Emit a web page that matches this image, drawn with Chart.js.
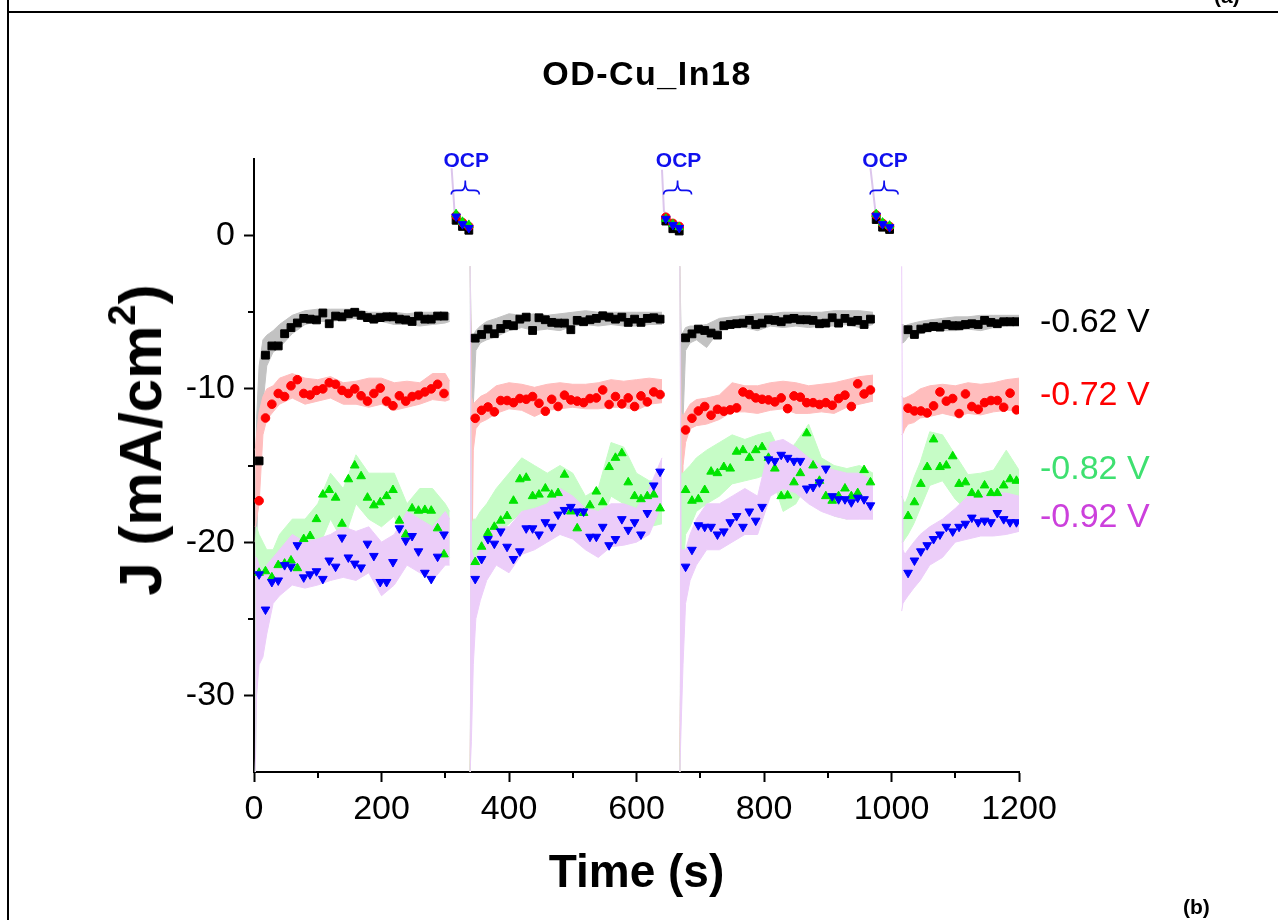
<!DOCTYPE html>
<html>
<head>
<meta charset="utf-8">
<script src="https://cdn.jsdelivr.net/npm/chart.js@4.4.1/dist/chart.umd.min.js"></script>
<style>
  html, body { margin: 0; padding: 0; background: #fff; }
  #wrap { position: relative; width: 1278px; height: 920px; overflow: hidden; font-family: "Liberation Sans", Arial, sans-serif; }
  #chart { position: absolute; left: 0; top: 0; }
  .frame-v { position: absolute; left: 7px; top: 0; width: 2px; height: 920px; background: #000; }
  .frame-h { position: absolute; left: 7px; top: 11px; width: 1271px; height: 2px; background: #000; }
  .txt { position: absolute; white-space: nowrap; line-height: 1; }
  .title { left: 647px; top: 73px; transform: translate(-50%, -50%); font-weight: bold; font-size: 34px; letter-spacing: 1.5px; }
  .ytitle { left: 141px; top: 440px; transform: translate(-50%, -50%) rotate(-90deg); font-weight: bold; font-size: 60px; }
  .ytitle sup { font-size: 38px; vertical-align: 26px; line-height: 0; }
  .vlab { left: 1040px; font-size: 34px; transform: translateY(-50%); }
  .panel { font-weight: bold; font-size: 21px; }
</style>
</head>
<body>
<div id="wrap">
  <canvas id="chart" width="1278" height="920"></canvas>
  <div class="frame-v"></div>
  <div class="frame-h"></div>
  <div class="txt panel" style="left:1214px; top:-15px;">(a)</div>
  <div class="txt title">OD-Cu_In18</div>
  <div class="txt ytitle">J (mA/cm<sup>2</sup>)</div>
  <div class="txt vlab" style="top:320px; color:#000000;">-0.62 V</div>
  <div class="txt vlab" style="top:393px; color:#ff0000;">-0.72 V</div>
  <div class="txt vlab" style="top:467px; color:#3ee070;">-0.82 V</div>
  <div class="txt vlab" style="top:515px; color:#cc40dc;">-0.92 V</div>
  <div class="txt panel" style="left:1183px; top:896px;">(b)</div>
</div>
<script>
// ---- marker times (s), one array per chronoamperometry step ----
const markTime1 = [8, 18, 28, 38, 48, 58, 68, 78, 88, 98, 108, 118, 128, 138, 148, 158, 168, 178, 188, 198, 208, 218, 228, 238, 248, 258, 268, 278, 288, 298];
const markTime2 = [347, 357, 367, 377, 387, 397, 407, 417, 427, 437, 447, 457, 467, 477, 487, 497, 507, 517, 527, 537, 547, 557, 567, 577, 587, 597, 607, 617, 627, 637];
const markTime3 = [677, 687, 697, 707, 717, 727, 737, 747, 757, 767, 777, 787, 797, 807, 817, 827, 837, 847, 857, 867, 877, 887, 897, 907, 917, 927, 937, 947, 957, 967];
const markTime4 = [1026, 1036, 1046, 1056, 1066, 1076, 1086, 1096, 1106, 1116, 1126, 1136, 1146, 1156, 1166, 1176, 1186, 1196];

// ---- marker values J (mA/cm2) ----
const black1 = [-14.7, -7.8, -7.2, -7.2, -6.4, -6.0, -5.7, -5.4, -5.45, -5.5, -5.05, -5.75, -5.25, -5.3, -5.1, -5.0, -5.2, -5.35, -5.45, -5.35, -5.3, -5.3, -5.45, -5.5, -5.6, -5.25, -5.45, -5.45, -5.25, -5.25];
const red1 = [-17.3, -11.9, -11.0, -10.3, -10.5, -9.8, -9.4, -10.3, -10.4, -10.1, -10.0, -9.6, -9.7, -10.1, -10.3, -10.0, -10.45, -10.8, -10.3, -9.95, -10.8, -11.1, -10.45, -10.8, -10.5, -10.4, -10.2, -10.0, -9.7, -10.3];
const green1 = [-22.0, -21.9, -22.3, -21.5, -21.4, -21.2, -21.7, -19.8, -19.6, -18.5, -16.9, -16.6, -17.1, -18.8, -15.9, -15.0, -15.7, -17.1, -17.6, -17.4, -17.0, -16.6, -18.6, -19.5, -17.8, -17.95, -17.9, -17.95, -19.1, -20.8];
const blue1 = [-22.1, -24.4, -22.6, -22.5, -21.5, -21.6, -20.2, -22.3, -22.1, -21.9, -22.4, -21.2, -21.6, -19.7, -21.0, -21.4, -21.65, -20.1, -20.9, -22.6, -22.6, -21.3, -19.1, -19.9, -19.6, -20.6, -22.0, -22.4, -20.95, -19.5];

const black2 = [-6.69, -6.45, -6.1, -6.4, -6.06, -5.8, -5.88, -5.45, -5.32, -6.19, -5.36, -5.49, -5.66, -5.71, -5.71, -6.14, -5.53, -5.62, -5.49, -5.4, -5.23, -5.32, -5.45, -5.32, -5.66, -5.45, -5.66, -5.4, -5.36, -5.45];
const red2 = [-11.92, -11.4, -11.18, -11.5, -10.76, -10.76, -10.9, -10.63, -10.68, -10.5, -10.94, -11.46, -10.68, -11.15, -10.41, -10.72, -10.8, -10.9, -10.63, -10.59, -10.07, -11.02, -10.5, -10.98, -10.59, -11.15, -10.46, -10.85, -10.2, -10.37];
const green2 = [-21.3, -20.3, -19.4, -19.0, -18.6, -18.3, -17.3, -15.9, -15.8, -17.0, -16.9, -16.5, -16.9, -16.8, -15.6, -18.0, -19.1, -18.1, -17.6, -16.7, -17.4, -15.1, -14.5, -14.2, -16.1, -17.0, -17.2, -17.0, -16.9, -17.8];
const blue2 = [-22.4, -21.1, -19.8, -20.1, -19.3, -20.3, -21.1, -20.6, -19.1, -19.1, -19.5, -18.7, -19.0, -18.2, -17.9, -17.7, -18.0, -18.0, -19.65, -19.65, -19.0, -20.2, -19.8, -18.5, -19.2, -18.7, -19.5, -18.1, -16.3, -15.4];

const black3 = [-6.67, -6.41, -6.1, -6.19, -6.36, -6.49, -5.88, -5.8, -5.75, -5.71, -5.53, -5.8, -5.71, -5.49, -5.53, -5.62, -5.45, -5.4, -5.49, -5.49, -5.53, -5.75, -5.71, -5.36, -5.71, -5.4, -5.62, -5.53, -5.8, -5.45];
const red3 = [-12.68, -11.92, -11.44, -11.15, -11.72, -11.33, -11.46, -11.37, -11.24, -10.2, -10.37, -10.59, -10.68, -10.72, -10.85, -10.59, -11.29, -10.46, -10.54, -10.9, -10.9, -11.02, -10.9, -11.07, -10.63, -10.41, -11.15, -9.67, -10.33, -10.07];
const green3 = [-16.6, -17.3, -17.2, -16.6, -15.4, -15.5, -15.1, -15.2, -14.1, -14.0, -14.5, -14.0, -13.8, -14.5, -15.2, -17.0, -16.96, -16.1, -15.5, -12.9, -15.0, -16.0, -17.0, -17.3, -17.0, -16.5, -17.0, -16.8, -15.3, -16.1];
const blue3 = [-21.6, -20.5, -18.9, -19.0, -19.0, -19.5, -19.3, -18.7, -18.3, -19.0, -18.0, -18.6, -17.7, -14.6, -14.7, -14.3, -14.5, -14.7, -14.7, -16.5, -16.4, -16.1, -15.2, -17.0, -17.2, -17.2, -17.4, -17.1, -17.2, -17.6];

const black4 = [-6.14, -6.45, -6.1, -6.01, -5.93, -5.97, -5.8, -5.88, -5.88, -5.8, -5.75, -5.8, -5.53, -5.66, -5.75, -5.62, -5.62, -5.62];
const red4 = [-11.26, -11.44, -11.44, -11.57, -11.11, -10.2, -10.8, -10.63, -11.61, -10.33, -11.15, -11.33, -10.9, -10.76, -10.76, -11.2, -10.28, -11.37];
const green4 = [-18.3, -17.4, -16.2, -15.1, -13.3, -15.1, -15.0, -14.4, -16.2, -16.1, -16.8, -16.9, -16.3, -16.8, -16.8, -16.3, -15.9, -16.0];
const blue4 = [-22.0, -21.2, -20.6, -20.2, -19.8, -19.5, -19.0, -19.3, -19.0, -18.8, -18.4, -18.7, -18.6, -18.7, -18.1, -18.5, -18.7, -18.7];

// ---- raw-current envelopes (upper / lower) ----
const bandTime1 = [2, 4, 8, 14, 20, 30, 40, 60, 80, 100, 120, 140, 160, 180, 200, 220, 240, 260, 280, 300, 307];
const blackHi1 = [-20, -12, -8.5, -6.8, -6.5, -6.2, -5.8, -5.2, -4.9, -4.8, -4.8, -4.8, -4.8, -5.0, -5.0, -5.0, -5.1, -5.0, -5.0, -5.0, -5.1];
const blackLo1 = [-35, -20, -15, -11, -8.5, -7.6, -7.3, -6.4, -5.8, -5.6, -5.6, -5.5, -5.4, -5.6, -5.6, -5.8, -5.8, -5.9, -5.8, -5.7, -5.6];
const redHi1 = [-14, -13, -11.5, -10.5, -10.0, -9.8, -9.3, -9.0, -9.3, -9.4, -9.2, -9.6, -9.5, -9.3, -9.3, -9.6, -9.5, -9.6, -9.0, -9.0, -9.5];
const redLo1 = [-19, -18.5, -17.5, -13, -12.0, -11.5, -11.0, -10.6, -11.0, -10.8, -10.6, -11.0, -11.0, -11.2, -11.0, -11.4, -11.2, -11.0, -10.7, -10.8, -10.7];
const greenHi1 = [-20, -19, -19.5, -20, -20.5, -20.5, -19.5, -18.5, -18.5, -17.5, -15.5, -16.5, -14.3, -15.5, -15.5, -15.5, -17.5, -16.5, -16.5, -17.5, -18.0];
const greenLo1 = [-35, -30, -24, -23.5, -23.5, -23, -22.5, -22.5, -21.5, -20.5, -18.5, -20, -17.5, -18.5, -19.0, -18.3, -21.0, -19.5, -20, -21.5, -21.0];
const purpleHi1 = [-21, -21, -21.5, -22, -21.5, -21, -20.5, -19.5, -20.0, -19.8, -19.5, -19.0, -19.3, -19.0, -20.0, -19.5, -18.0, -18.5, -19.0, -18.0, -18.5];
const purpleLo1 = [-35, -30, -28, -27.5, -26, -24, -23.5, -22.8, -23.0, -22.8, -22.5, -22.3, -22.5, -22.0, -23.5, -22.8, -21.5, -22.0, -22.5, -21.5, -21.5];

const bandTime2 = [339, 341, 344, 348, 355, 365, 380, 400, 420, 440, 460, 480, 500, 520, 540, 560, 580, 600, 620, 640];
const blackHi2 = [-2, -6.8, -6.5, -6.2, -5.9, -5.6, -5.4, -5.1, -5.2, -5.1, -5.2, -5.1, -5.0, -4.9, -5.0, -5.0, -5.0, -5.0, -5.0, -5.0];
const blackLo2 = [-35, -20, -11, -7.5, -7.0, -6.8, -6.6, -6.2, -6.0, -6.2, -6.1, -6.2, -5.9, -5.8, -5.9, -5.8, -5.9, -5.9, -5.8, -5.8];
const redHi2 = [-2, -10.5, -11, -10.8, -10.5, -10.3, -9.8, -9.6, -9.7, -9.9, -9.7, -9.6, -9.7, -9.7, -9.6, -9.4, -9.5, -9.4, -9.3, -9.4];
const redLo2 = [-35, -25, -14, -12.6, -12.2, -12.0, -11.6, -11.3, -11.4, -11.8, -11.4, -11.3, -11.2, -11.3, -11.3, -11.2, -11.2, -11.4, -11.0, -10.9];
const greenHi2 = [-2, -19, -18.5, -18.5, -18, -17.5, -16.5, -15.5, -14.5, -15.0, -15.5, -15.0, -15.5, -17.0, -16.5, -13.5, -13.8, -15.5, -16.0, -16.0];
const greenLo2 = [-35, -30, -24, -22.5, -21.5, -21, -19.5, -18.8, -18.0, -18.5, -18.5, -18.3, -19.5, -20.0, -19.2, -17.0, -17.5, -18.5, -19.0, -18.8];
const purpleHi2 = [-2, -20.5, -21, -21, -20.5, -19.5, -19.0, -19.0, -18.0, -17.8, -17.5, -16.5, -17.0, -17.8, -18.0, -17.5, -17.5, -17.8, -16.5, -14.5];
const purpleLo2 = [-35, -33, -28, -25, -23.8, -22.5, -21.5, -22.0, -20.8, -20.5, -20.0, -19.5, -19.8, -20.5, -21.0, -20.3, -20.2, -20.0, -19.5, -17.5];

const bandTime3 = [668, 670, 673, 677, 684, 694, 710, 730, 750, 770, 790, 810, 830, 850, 870, 890, 910, 930, 950, 971];
const blackHi3 = [-2, -6.5, -6.3, -6.0, -5.9, -5.9, -5.8, -5.4, -5.3, -5.2, -5.1, -5.1, -5.0, -5.0, -5.0, -5.0, -4.9, -4.9, -4.9, -5.0];
const blackLo3 = [-35, -22, -12, -7.5, -7.0, -6.8, -7.3, -6.2, -6.0, -6.0, -6.2, -5.9, -6.0, -5.9, -6.0, -5.9, -5.9, -5.8, -6.0, -5.8];
const redHi3 = [-2, -11.5, -11.8, -11.5, -11.0, -10.7, -10.6, -10.4, -9.6, -9.8, -9.8, -9.6, -9.5, -9.6, -9.8, -9.7, -9.6, -9.4, -9.2, -9.1];
const redLo3 = [-35, -25, -15, -13.5, -12.6, -12.4, -12.3, -12.0, -11.5, -11.5, -11.6, -11.4, -11.3, -11.6, -11.6, -11.5, -11.6, -11.2, -11.0, -10.8];
const greenHi3 = [-2, -15.5, -15.5, -15.3, -15.0, -14.5, -14.0, -13.5, -13.0, -13.3, -13.0, -12.8, -14.5, -13.5, -12.3, -14.5, -15.0, -15.2, -15.0, -15.5];
const greenLo3 = [-35, -30, -22, -19.5, -19.0, -18.0, -17.5, -17.0, -16.2, -16.0, -15.8, -15.5, -18.0, -17.5, -16.0, -17.5, -18.3, -18.5, -18.0, -17.5];
const purpleHi3 = [-2, -20.5, -20.5, -20.5, -19.5, -18.5, -17.5, -17.5, -17.0, -16.5, -17.0, -13.5, -13.3, -13.8, -14.5, -15.0, -15.3, -15.5, -15.5, -16.0];
const purpleLo3 = [-35, -32, -28, -24, -22.5, -21.5, -20.5, -20.5, -20.0, -19.5, -19.5, -17.0, -16.5, -16.8, -17.5, -18.0, -18.3, -18.5, -18.5, -18.5];

const bandTime4 = [1016, 1018, 1021, 1026, 1035, 1045, 1060, 1080, 1100, 1120, 1140, 1160, 1180, 1200];
const blackHi4 = [-5.8, -5.8, -5.9, -5.8, -5.7, -5.6, -5.5, -5.4, -5.3, -5.3, -5.2, -5.2, -5.2, -5.2];
const blackLo4 = [-7.0, -7.0, -6.9, -6.6, -6.6, -6.4, -6.2, -6.2, -6.2, -6.1, -6.2, -6.0, -5.9, -5.9];
const redHi4 = [-10.5, -10.6, -10.6, -10.5, -10.3, -10.0, -9.8, -9.7, -9.8, -9.6, -9.7, -9.6, -9.4, -9.3];
const redLo4 = [-13.0, -12.9, -12.6, -12.3, -12.2, -11.9, -11.8, -11.6, -11.8, -11.6, -11.7, -11.5, -11.4, -11.4];
const greenHi4 = [-17.0, -17.2, -17.5, -17.0, -15.8, -14.8, -12.8, -13.0, -14.3, -15.6, -15.5, -15.3, -14.0, -15.3];
const greenLo4 = [-20.0, -20.0, -19.8, -19.5, -18.8, -17.8, -16.3, -16.0, -17.2, -18.0, -17.8, -17.8, -17.3, -17.5];
const purpleHi4 = [-2, -20.5, -20.8, -20.5, -20.0, -19.5, -19.0, -18.5, -17.8, -17.0, -17.0, -16.8, -16.8, -17.0];
const purpleLo4 = [-24.5, -24.0, -23.8, -23.5, -23.0, -22.5, -21.5, -21.0, -20.0, -19.8, -19.6, -19.6, -19.5, -19.3];

// ---- open-circuit (OCP) pauses ----
const ocpLineTime = [[310, 315, 326, 337], [640, 643, 656, 667], [967, 975, 986, 997]];
const ocpLineVal = [[4.4, 1.3, 0.8, 0.4], [4.3, 1.6, 0.9, 0.5], [4.4, 1.5, 0.7, 0.5]];
const ocpMarkTime = [[317, 327, 337], [646, 657, 667], [976, 986, 997]];
const ocpBlack = [[1.0, 0.6, 0.35], [0.95, 0.45, 0.3], [1.05, 0.55, 0.4]];
const ocpRed = [[1.3, 0.85, 0.6], [1.2, 0.8, 0.6], [1.35, 0.8, 0.6]];
const ocpGreen = [[1.4, 0.9, 0.7], [1.1, 0.75, 0.55], [1.4, 0.85, 0.65]];
const ocpBlue = [[1.25, 0.75, 0.5], [1.1, 0.7, 0.5], [1.3, 0.75, 0.55]];
const ocpLabelTime = [333, 666, 990];

// ---- axes ----
const xMajorTicks = [0, 200, 400, 600, 800, 1000, 1200];
const xMinorTicks = [100, 300, 500, 700, 900, 1100];
const yMajorTicks = [-30, -20, -10, 0];
const yMinorTicks = [-25, -15, -5];

const FONT = "'Liberation Sans', Arial, sans-serif";
Chart.defaults.font.family = FONT;
Chart.defaults.color = '#000';

function pts(times, vals) {
    return times.map((t, i) => ({ x: t, y: vals[i] }));
}

// Envelope pair: lower edge, then upper edge filled down to it
function band(times, hi, lo, color, order) {
    return [
        { type: 'line', data: pts(times, lo), borderColor: color, borderWidth: 1, pointRadius: 0, showLine: true, fill: false, order: order },
        { type: 'line', data: pts(times, hi), borderColor: color, backgroundColor: color, borderWidth: 1, pointRadius: 0, showLine: true, fill: '-1', order: order }
    ];
}

function markers(parts, ocpVals, style, color, radius, rotation, order) {
    let data = [];
    parts.forEach(([t, v]) => { data = data.concat(pts(t, v)); });
    ocpVals.forEach((v, i) => { data = data.concat(pts(ocpMarkTime[i], v)); });
    return {
        type: 'scatter', data: data, showLine: false, order: order,
        pointStyle: style, pointRadius: radius, pointRotation: rotation,
        pointBackgroundColor: color, pointBorderColor: color, pointBorderWidth: 1, pointHoverRadius: radius
    };
}

const GRAY = '#c2c2c2', PINK = '#ffbdbd', LGREEN = '#c6fcc6', LPURPLE = '#eccdf9';

const datasets = [];
const bandSets = [
    [bandTime1, blackHi1, blackLo1, redHi1, redLo1, greenHi1, greenLo1, purpleHi1, purpleLo1],
    [bandTime2, blackHi2, blackLo2, redHi2, redLo2, greenHi2, greenLo2, purpleHi2, purpleLo2],
    [bandTime3, blackHi3, blackLo3, redHi3, redLo3, greenHi3, greenLo3, purpleHi3, purpleLo3],
    [bandTime4, blackHi4, blackLo4, redHi4, redLo4, greenHi4, greenLo4, purpleHi4, purpleLo4]
];
bandSets.forEach(S => {
    datasets.push(...band(S[0], S[1], S[2], GRAY, 8));
    datasets.push(...band(S[0], S[3], S[4], PINK, 7));
    datasets.push(...band(S[0], S[5], S[6], LGREEN, 6));
    datasets.push(...band(S[0], S[7], S[8], LPURPLE, 5));
});

// OCP decay traces
ocpLineTime.forEach((t, i) => {
    datasets.push({ type: 'line', data: pts(t, ocpLineVal[i]), borderColor: '#dcc6ec', borderWidth: 2, pointRadius: 0, showLine: true, fill: false, order: 4 });
});

datasets.push(markers([[markTime1, black1], [markTime2, black2], [markTime3, black3], [markTime4, black4]], ocpBlack, 'rect', '#000000', 5.5, 0, 3));
datasets.push(markers([[markTime1, red1], [markTime2, red2], [markTime3, red3], [markTime4, red4]], ocpRed, 'circle', '#ff0000', 4.3, 0, 2));
datasets.push(markers([[markTime1, green1], [markTime2, green2], [markTime3, green3], [markTime4, green4]], ocpGreen, 'triangle', '#00e400', 5, 0, 1));
datasets.push(markers([[markTime1, blue1], [markTime2, blue2], [markTime3, blue3], [markTime4, blue4]], ocpBlue, 'triangle', '#0000ff', 5, 180, 0));

// Minor ticks + OCP annotations
const extrasPlugin = {
    id: 'extras',
    afterDraw(chart) {
        const { ctx, chartArea, scales: { x, y } } = chart;
        ctx.save();
        ctx.strokeStyle = '#000';
        ctx.lineWidth = 2;
        xMinorTicks.forEach(v => {
            const px = Math.round(x.getPixelForValue(v));
            ctx.beginPath(); ctx.moveTo(px, chartArea.bottom); ctx.lineTo(px, chartArea.bottom + 6); ctx.stroke();
        });
        yMinorTicks.forEach(v => {
            const py = Math.round(y.getPixelForValue(v));
            ctx.beginPath(); ctx.moveTo(chartArea.left - 6, py); ctx.lineTo(chartArea.left, py); ctx.stroke();
        });
        // OCP labels with braces
        ctx.fillStyle = '#1010ee';
        ctx.strokeStyle = '#1010ee';
        ctx.lineWidth = 1.6;
        ctx.font = "bold 21px " + FONT;
        ctx.textAlign = 'center';
        ctx.textBaseline = 'middle';
        ocpLabelTime.forEach(t => {
            const cx = x.getPixelForValue(t);
            const ty = y.getPixelForValue(4.85);
            ctx.fillText('OCP', cx, ty);
            const by = y.getPixelForValue(2.95);
            const bx = cx - 1;
            ctx.beginPath();
            ctx.moveTo(bx - 14, by + 4);
            ctx.quadraticCurveTo(bx - 14, by, bx - 9, by);
            ctx.lineTo(bx - 4, by);
            ctx.quadraticCurveTo(bx, by, bx, by - 10);
            ctx.quadraticCurveTo(bx, by, bx + 4, by);
            ctx.lineTo(bx + 9, by);
            ctx.quadraticCurveTo(bx + 14, by, bx + 14, by + 4);
            ctx.stroke();
        });
        ctx.restore();
    }
};

new Chart(document.getElementById('chart').getContext('2d'), {
    type: 'scatter',
    data: { datasets: datasets },
    plugins: [extrasPlugin],
    options: {
        responsive: false,
        animation: false,
        devicePixelRatio: 1,
        layout: { padding: { left: 0, right: 259, top: 159, bottom: 18 } },
        plugins: { legend: { display: false }, tooltip: { enabled: false } },
        scales: {
            x: {
                type: 'linear', position: 'bottom', min: 0, max: 1200,
                afterBuildTicks: (scale) => { scale.ticks = xMajorTicks.map(v => ({ value: v })); },
                afterFit: (scale) => { scale.height = 130; },
                grid: { display: true, drawOnChartArea: false, drawTicks: true, tickLength: 10, tickWidth: 2, tickColor: '#000' },
                border: { display: true, color: '#000', width: 2 },
                ticks: { font: { size: 34 }, color: '#000', padding: 7, maxRotation: 0, autoSkip: false, callback: (v) => String(v) },
                title: { display: true, text: 'Time (s)', font: { size: 46, weight: 'bold' }, color: '#000', padding: { top: 0, bottom: 0 } }
            },
            y: {
                type: 'linear', position: 'left', min: -35, max: 5,
                afterBuildTicks: (scale) => { scale.ticks = yMajorTicks.map(v => ({ value: v })); },
                afterFit: (scale) => { scale.width = 254; },
                grid: { display: true, drawOnChartArea: false, drawTicks: true, tickLength: 10, tickWidth: 2, tickColor: '#000' },
                border: { display: true, color: '#000', width: 2 },
                ticks: { font: { size: 34 }, color: '#000', padding: 9, autoSkip: false, callback: (v) => String(v) }
            }
        }
    }
});
</script>
</body>
</html>
